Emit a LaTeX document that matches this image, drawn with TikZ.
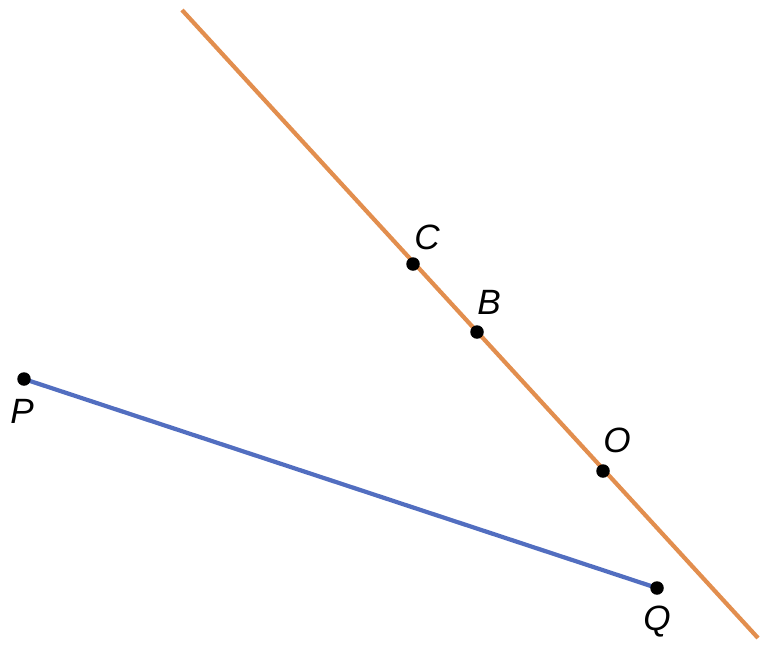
\documentclass[tikz,border=0pt]{standalone}
\usepackage{fontspec}
\setmainfont{Liberation Sans}
\definecolor{lineorange}{RGB}{226,142,78}
\definecolor{lineblue}{RGB}{82,110,192}
\tikzset{
    pt/.style={circle,fill=black,inner sep=0pt,minimum size=0.27cm},
    lbl/.style={font=\fontsize{20}{24}\selectfont\itshape,inner sep=0pt}
}
\begin{document}
\begin{tikzpicture}[x=0.02cm,y=-0.02cm,line width=2.4pt]
    \useasboundingbox (0,0) rectangle (766,656);
    \coordinate (top) at (182,10);
    \coordinate (bot) at (758,638);
    \draw[lineorange] (top)--(bot);
    \draw[lineblue] (24,379) coordinate (p0)--(657,588) coordinate (q0);

    \node[pt] (C) at (413,264) {};
    \node[pt] (B) at (477,332) {};
    \node[pt] (O) at (603,471) {};
    \node[pt] (P) at (p0) {};
    \node[pt] (Q) at (q0) {};

    \node[lbl] (Clbl) at (427,237) {C};
    \node[lbl] (Blbl) at (489,302) {B};
    \node[lbl] (Olbl) at (617,440) {O};
    \node[lbl] (Plbl) at (22,411) {P};
    \node[lbl] (Qlbl) at (657,622) {Q};
\end{tikzpicture}
\end{document}
